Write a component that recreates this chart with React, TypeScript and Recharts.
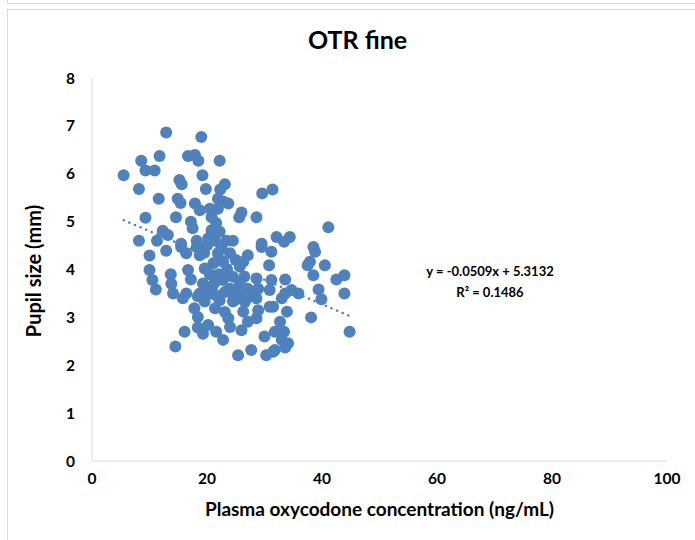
import { ScatterChart, Scatter, XAxis, YAxis } from 'recharts';

// values (ng/mL, mm)
const concentration = [
  12.9, 11.75, 8.56, 16.7, 5.5, 9.3, 10.9, 15.2, 15.6, 8.16, 11.6, 14.9, 15.4, 17.9, 9.3, 14.6, 17.2, 17.5, 12.3, 13.2, 8.16, 11.3, 15.5, 18.2,
  19.0, 17.9, 18.5, 22.2, 19.2, 23.1, 19.8, 22.3, 29.6, 31.4, 21.9, 22.8, 23.7, 18.75, 20.5, 21.9, 26.0, 25.6, 28.6, 20.8, 21.6, 20.8, 22.2, 32.1, 29.5, 23.4, 24.5, 20.2, 21.4,
  41.1, 34.4, 33.4,
  10.0, 12.9, 15.5, 16.4, 10.0, 13.7, 10.5, 13.8, 16.7, 17.2, 11.1, 14.1, 15.8, 16.4, 17.8, 18.4, 16.1, 14.5, 18.4,
  29.5, 31.2, 27.1, 26.3, 25.7, 30.8, 18.2, 18.75, 21.9, 24.0, 21.1, 22.8, 19.6, 24.5, 28.6, 31.2, 19.3, 21.4, 22.8, 25.7, 27.1, 28.9, 30.9, 18.75, 20.5, 23.1, 25.1,
  19.6, 22.2, 24.5, 28.6, 30.9, 28.9, 26.3, 23.7, 27.1, 28.6, 24.0, 26.0, 21.6, 20.2, 30.0, 19.3, 22.8, 27.7, 25.4, 30.3, 31.8,
  38.5, 38.8, 37.9, 37.5, 40.5, 38.5, 42.5, 43.9, 43.9, 39.4, 39.9, 33.6, 34.7, 35.9, 33.6, 33.0, 31.5, 33.9, 38.1, 44.8, 32.7, 31.8, 33.4, 33.0, 34.1, 33.6, 31.5,
  21.4, 21.0, 24.0, 24.8, 21.4, 23.1, 26.6, 27.4, 19.6, 18.4, 22.0, 23.5, 20.5, 25.0, 26.5, 24.0, 20.0, 22.5, 19.5, 26.5,
];

const pupilSize = [
  6.86, 6.37, 6.27, 6.37, 5.97, 6.07, 6.07, 5.87, 5.78, 5.68, 5.48, 5.48, 5.39, 5.38, 5.08, 5.09, 5.0, 4.86, 4.81, 4.72, 4.6, 4.6, 4.54, 4.6,
  6.77, 6.39, 6.27, 6.27, 5.97, 5.78, 5.68, 5.67, 5.59, 5.67, 5.48, 5.42, 5.38, 5.24, 5.27, 5.27, 5.19, 5.09, 5.09, 5.09, 4.97, 4.82, 4.79, 4.68, 4.54, 4.6, 4.6, 4.65, 4.6,
  4.88, 4.68, 4.58,
  4.29, 4.39, 4.47, 4.34, 3.99, 3.9, 3.78, 3.7, 3.99, 3.79, 3.58, 3.5, 3.4, 3.5, 3.19, 3.01, 2.7, 2.39, 2.79,
  4.47, 4.37, 4.3, 4.16, 4.06, 4.09, 4.47, 4.3, 4.34, 4.34, 4.13, 4.16, 4.02, 3.85, 3.81, 3.78, 3.71, 3.74, 3.78, 3.71, 3.6, 3.6, 3.57, 3.5, 3.5, 3.53, 3.53,
  3.33, 3.36, 3.33, 3.4, 3.22, 3.15, 3.12, 2.98, 2.91, 2.98, 2.8, 2.73, 2.7, 2.84, 2.6, 2.66, 2.53, 2.32, 2.21, 2.21, 2.32,
  4.47, 4.37, 4.16, 4.09, 4.09, 3.88, 3.79, 3.88, 3.5, 3.58, 3.38, 3.79, 3.57, 3.5, 3.5, 3.4, 3.22, 3.12, 3.0, 2.7, 2.91, 2.7, 2.7, 2.53, 2.46, 2.37, 2.28,
  3.47, 3.67, 3.53, 3.36, 3.19, 3.11, 3.32, 3.44, 3.57, 3.44, 3.9, 4.0, 3.9, 4.2, 3.85, 3.6, 4.5, 4.45, 4.35, 3.45,
];

// linear trendline y = -0.0509x + 5.3132, drawn between the extreme x values
const trendX = [5.5, 44.8];
const trendY = [5.03, 3.03];

const xTicks = [0, 20, 40, 60, 80, 100];
const yTicks = [0, 1, 2, 3, 4, 5, 6, 7, 8];

const points = concentration.map((x, i) => ({ x, y: pupilSize[i] }));
const trend = trendX.map((x, i) => ({ x, y: trendY[i] }));

const font = 'Lato, "Open Sans", sans-serif';
const tickStyle = { fontSize: 15.5, fontWeight: 700, fill: '#000', fontFamily: font };

const Dot = (props: any) => <circle cx={props.cx} cy={props.cy} r={6} fill="#4f81bd" />;

export default function App() {
  return (
    <div style={{ position: 'absolute', left: 0, top: 0, width: 695, height: 540, background: '#fff', fontFamily: font, overflow: 'hidden' }}>
      <div style={{ position: 'absolute', left: 7, top: -20, width: 700, height: 22, border: '1px solid #d9d9d9' }} />
      <div style={{ position: 'absolute', left: 7, top: 9, width: 700, height: 560, border: '1px solid #d9d9d9' }} />
      <ScatterChart width={695} height={540} margin={{ top: 78, right: 28, bottom: 49, left: 62 }} style={{ position: 'absolute', left: 0, top: 0 }}>
        <XAxis
          type="number"
          dataKey="x"
          domain={[0, 100]}
          ticks={xTicks}
          tick={tickStyle}
          tickLine={false}
          tickSize={0}
          tickMargin={12}
          axisLine={{ stroke: '#d9d9d9' }}
          height={30}
        />
        <YAxis
          type="number"
          dataKey="y"
          domain={[0, 8]}
          ticks={yTicks}
          tick={tickStyle}
          tickLine={false}
          tickSize={0}
          tickMargin={17}
          axisLine={{ stroke: '#d9d9d9' }}
          width={30}
        />
        <Scatter data={points} shape={Dot} isAnimationActive={false} />
        <Scatter
          data={trend}
          shape={() => null}
          line={{ stroke: '#4f81bd', strokeWidth: 2.5, strokeDasharray: '0.1 6', strokeLinecap: 'round' }}
          isAnimationActive={false}
        />
      </ScatterChart>
      <div style={{ position: 'absolute', left: 0, width: 695, top: 24, textAlign: 'center', fontSize: 25, fontWeight: 700, marginLeft: 10 }}>
        OTR fine
      </div>
      <div style={{ position: 'absolute', left: 390, width: 200, top: 261, textAlign: 'center', fontSize: 13, fontWeight: 700, lineHeight: '21px' }}>
        y = -0.0509x + 5.3132
        <br />
        R² = 0.1486
      </div>
      <div style={{ position: 'absolute', left: 92, width: 575, top: 497, textAlign: 'center', fontSize: 19, fontWeight: 700 }}>
        Plasma oxycodone concentration (ng/mL)
      </div>
      <div style={{ position: 'absolute', left: 33, top: 271, width: 0, height: 0 }}>
        <div style={{ position: 'absolute', left: -110, top: -12, width: 220, textAlign: 'center', fontSize: 20, fontWeight: 700, transform: 'rotate(-90deg)', lineHeight: '24px' }}>
          Pupil size (mm)
        </div>
      </div>
    </div>
  );
}
